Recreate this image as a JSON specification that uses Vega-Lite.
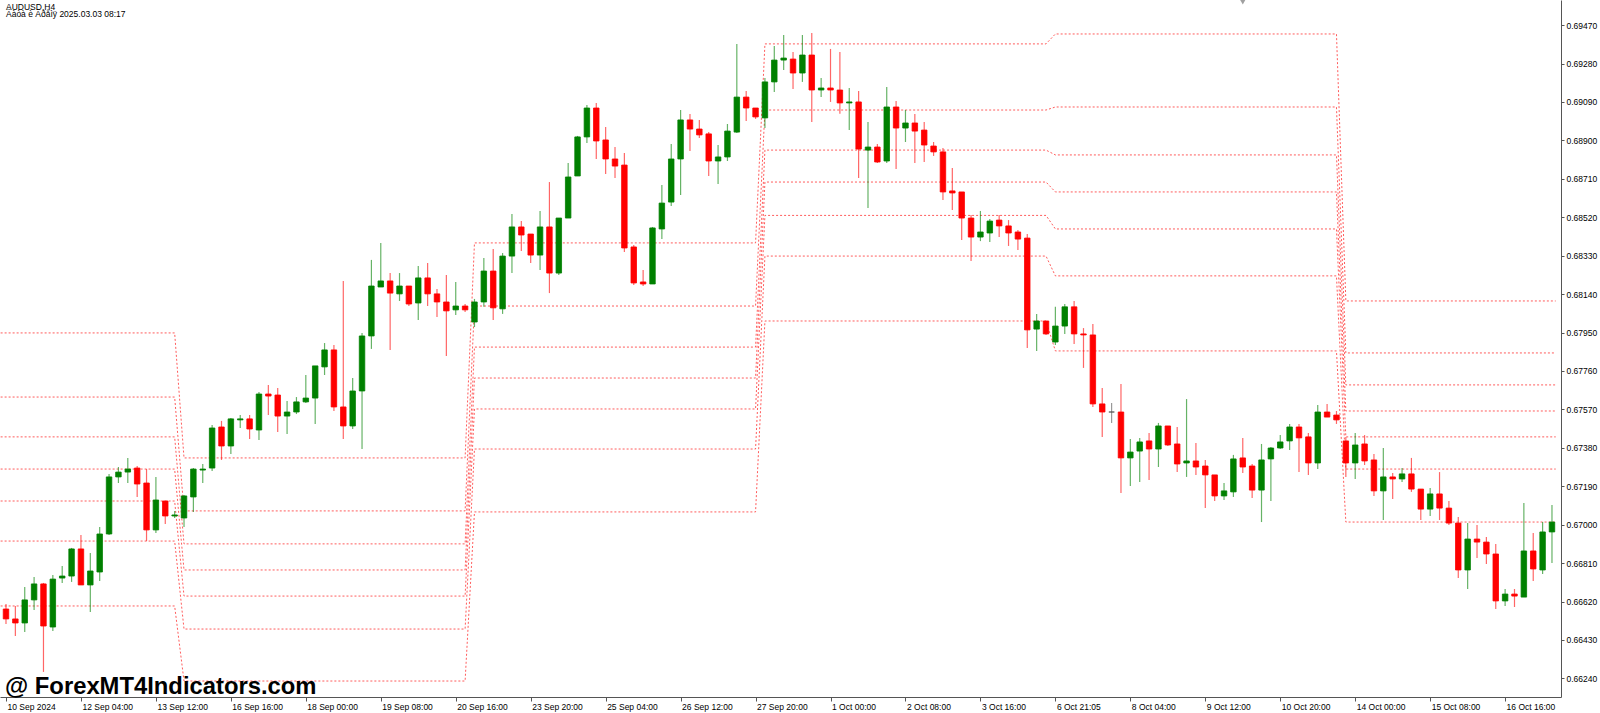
{
  "$schema": "https://vega.github.io/schema/vega-lite/v6.json",
  "width": 1561,
  "height": 697,
  "autosize": "none",
  "padding": {"left": 0, "top": 0, "right": 39, "bottom": 16},
  "background": "white",
  "config": {
    "view": {"stroke": null},
    "axis": {
      "grid": false,
      "title": null,
      "domainColor": "#555555",
      "tickColor": "#555555",
      "labelColor": "#000000",
      "labelFont": "Liberation Sans",
      "labelFontSize": 8.5
    }
  },
  "datasets": {
    "candles": [
      {"i":0,"o":0.66583,"h":0.66608,"l":0.66509,"c":0.66534,"d":"down"},
      {"i":1,"o":0.66534,"h":0.66598,"l":0.66450,"c":0.66514,"d":"down"},
      {"i":2,"o":0.66514,"h":0.66692,"l":0.66469,"c":0.66628,"d":"up"},
      {"i":3,"o":0.66628,"h":0.66741,"l":0.66578,"c":0.66707,"d":"up"},
      {"i":4,"o":0.66707,"h":0.66712,"l":0.66272,"c":0.66499,"d":"down"},
      {"i":5,"o":0.66494,"h":0.66751,"l":0.66474,"c":0.66731,"d":"up"},
      {"i":6,"o":0.66736,"h":0.66796,"l":0.66712,"c":0.66746,"d":"up"},
      {"i":7,"o":0.66746,"h":0.66885,"l":0.66717,"c":0.66880,"d":"up"},
      {"i":8,"o":0.66880,"h":0.66949,"l":0.66702,"c":0.66702,"d":"down"},
      {"i":9,"o":0.66702,"h":0.66860,"l":0.66568,"c":0.66771,"d":"up"},
      {"i":10,"o":0.66766,"h":0.66989,"l":0.66722,"c":0.66954,"d":"up"},
      {"i":11,"o":0.66954,"h":0.67251,"l":0.66949,"c":0.67236,"d":"up"},
      {"i":12,"o":0.67236,"h":0.67285,"l":0.67206,"c":0.67260,"d":"up"},
      {"i":13,"o":0.67260,"h":0.67330,"l":0.67206,"c":0.67275,"d":"up"},
      {"i":14,"o":0.67280,"h":0.67290,"l":0.67137,"c":0.67201,"d":"down"},
      {"i":15,"o":0.67206,"h":0.67275,"l":0.66919,"c":0.66974,"d":"down"},
      {"i":16,"o":0.66974,"h":0.67236,"l":0.66959,"c":0.67122,"d":"up"},
      {"i":17,"o":0.67117,"h":0.67117,"l":0.67003,"c":0.67043,"d":"down"},
      {"i":18,"o":0.67043,"h":0.67068,"l":0.67033,"c":0.67048,"d":"up"},
      {"i":19,"o":0.67033,"h":0.67147,"l":0.66989,"c":0.67142,"d":"up"},
      {"i":20,"o":0.67137,"h":0.67280,"l":0.67063,"c":0.67275,"d":"up"},
      {"i":21,"o":0.67270,"h":0.67300,"l":0.67206,"c":0.67275,"d":"up"},
      {"i":22,"o":0.67280,"h":0.67493,"l":0.67265,"c":0.67478,"d":"up"},
      {"i":23,"o":0.67483,"h":0.67513,"l":0.67320,"c":0.67389,"d":"down"},
      {"i":24,"o":0.67389,"h":0.67527,"l":0.67349,"c":0.67523,"d":"up"},
      {"i":25,"o":0.67518,"h":0.67542,"l":0.67478,"c":0.67523,"d":"up"},
      {"i":26,"o":0.67523,"h":0.67542,"l":0.67424,"c":0.67473,"d":"down"},
      {"i":27,"o":0.67468,"h":0.67656,"l":0.67419,"c":0.67646,"d":"up"},
      {"i":28,"o":0.67646,"h":0.67691,"l":0.67542,"c":0.67636,"d":"down"},
      {"i":29,"o":0.67641,"h":0.67676,"l":0.67458,"c":0.67537,"d":"down"},
      {"i":30,"o":0.67537,"h":0.67612,"l":0.67448,"c":0.67557,"d":"up"},
      {"i":31,"o":0.67557,"h":0.67631,"l":0.67547,"c":0.67607,"d":"up"},
      {"i":32,"o":0.67607,"h":0.67740,"l":0.67602,"c":0.67626,"d":"up"},
      {"i":33,"o":0.67626,"h":0.67785,"l":0.67498,"c":0.67785,"d":"up"},
      {"i":34,"o":0.67780,"h":0.67898,"l":0.67740,"c":0.67864,"d":"up"},
      {"i":35,"o":0.67864,"h":0.67888,"l":0.67562,"c":0.67582,"d":"down"},
      {"i":36,"o":0.67582,"h":0.68205,"l":0.67424,"c":0.67488,"d":"down"},
      {"i":37,"o":0.67488,"h":0.67725,"l":0.67473,"c":0.67661,"d":"up"},
      {"i":38,"o":0.67661,"h":0.67948,"l":0.67374,"c":0.67933,"d":"up"},
      {"i":39,"o":0.67933,"h":0.68309,"l":0.67869,"c":0.68180,"d":"up"},
      {"i":40,"o":0.68175,"h":0.68393,"l":0.68175,"c":0.68205,"d":"up"},
      {"i":41,"o":0.68205,"h":0.68244,"l":0.67864,"c":0.68145,"d":"down"},
      {"i":42,"o":0.68141,"h":0.68244,"l":0.68106,"c":0.68180,"d":"up"},
      {"i":43,"o":0.68180,"h":0.68180,"l":0.68081,"c":0.68091,"d":"down"},
      {"i":44,"o":0.68096,"h":0.68279,"l":0.68012,"c":0.68220,"d":"up"},
      {"i":45,"o":0.68220,"h":0.68294,"l":0.68081,"c":0.68141,"d":"down"},
      {"i":46,"o":0.68141,"h":0.68165,"l":0.68027,"c":0.68101,"d":"down"},
      {"i":47,"o":0.68101,"h":0.68234,"l":0.67834,"c":0.68057,"d":"down"},
      {"i":48,"o":0.68062,"h":0.68200,"l":0.68037,"c":0.68081,"d":"up"},
      {"i":49,"o":0.68081,"h":0.68091,"l":0.68052,"c":0.68062,"d":"down"},
      {"i":50,"o":0.68002,"h":0.68116,"l":0.67977,"c":0.68101,"d":"up"},
      {"i":51,"o":0.68101,"h":0.68318,"l":0.68077,"c":0.68254,"d":"up"},
      {"i":52,"o":0.68254,"h":0.68363,"l":0.68012,"c":0.68072,"d":"down"},
      {"i":53,"o":0.68067,"h":0.68343,"l":0.68042,"c":0.68328,"d":"up"},
      {"i":54,"o":0.68328,"h":0.68536,"l":0.68244,"c":0.68472,"d":"up"},
      {"i":55,"o":0.68472,"h":0.68501,"l":0.68353,"c":0.68432,"d":"down"},
      {"i":56,"o":0.68437,"h":0.68437,"l":0.68294,"c":0.68333,"d":"down"},
      {"i":57,"o":0.68333,"h":0.68551,"l":0.68259,"c":0.68472,"d":"up"},
      {"i":58,"o":0.68472,"h":0.68694,"l":0.68145,"c":0.68244,"d":"down"},
      {"i":59,"o":0.68244,"h":0.68516,"l":0.68234,"c":0.68516,"d":"up"},
      {"i":60,"o":0.68516,"h":0.68788,"l":0.68516,"c":0.68719,"d":"up"},
      {"i":61,"o":0.68724,"h":0.68922,"l":0.68724,"c":0.68917,"d":"up"},
      {"i":62,"o":0.68917,"h":0.69075,"l":0.68887,"c":0.69060,"d":"up"},
      {"i":63,"o":0.69060,"h":0.69085,"l":0.68808,"c":0.68897,"d":"down"},
      {"i":64,"o":0.68902,"h":0.68966,"l":0.68734,"c":0.68808,"d":"down"},
      {"i":65,"o":0.68808,"h":0.68867,"l":0.68714,"c":0.68773,"d":"down"},
      {"i":66,"o":0.68778,"h":0.68838,"l":0.68348,"c":0.68368,"d":"down"},
      {"i":67,"o":0.68373,"h":0.68383,"l":0.68185,"c":0.68195,"d":"down"},
      {"i":68,"o":0.68200,"h":0.68259,"l":0.68180,"c":0.68190,"d":"down"},
      {"i":69,"o":0.68190,"h":0.68472,"l":0.68190,"c":0.68467,"d":"up"},
      {"i":70,"o":0.68462,"h":0.68679,"l":0.68412,"c":0.68590,"d":"up"},
      {"i":71,"o":0.68595,"h":0.68882,"l":0.68576,"c":0.68808,"d":"up"},
      {"i":72,"o":0.68808,"h":0.69050,"l":0.68630,"c":0.69001,"d":"up"},
      {"i":73,"o":0.69001,"h":0.69030,"l":0.68847,"c":0.68956,"d":"down"},
      {"i":74,"o":0.68956,"h":0.69001,"l":0.68912,"c":0.68927,"d":"down"},
      {"i":75,"o":0.68932,"h":0.68941,"l":0.68724,"c":0.68798,"d":"down"},
      {"i":76,"o":0.68798,"h":0.68877,"l":0.68684,"c":0.68818,"d":"up"},
      {"i":77,"o":0.68818,"h":0.68981,"l":0.68798,"c":0.68946,"d":"up"},
      {"i":78,"o":0.68941,"h":0.69377,"l":0.68936,"c":0.69114,"d":"up"},
      {"i":79,"o":0.69114,"h":0.69144,"l":0.68996,"c":0.69060,"d":"down"},
      {"i":80,"o":0.69060,"h":0.69060,"l":0.69006,"c":0.69016,"d":"down"},
      {"i":81,"o":0.69011,"h":0.69208,"l":0.68961,"c":0.69189,"d":"up"},
      {"i":82,"o":0.69189,"h":0.69367,"l":0.69139,"c":0.69297,"d":"up"},
      {"i":83,"o":0.69297,"h":0.69421,"l":0.69248,"c":0.69307,"d":"up"},
      {"i":84,"o":0.69302,"h":0.69337,"l":0.69154,"c":0.69233,"d":"down"},
      {"i":85,"o":0.69233,"h":0.69421,"l":0.69189,"c":0.69322,"d":"up"},
      {"i":86,"o":0.69322,"h":0.69431,"l":0.68991,"c":0.69149,"d":"down"},
      {"i":87,"o":0.69149,"h":0.69208,"l":0.69115,"c":0.69159,"d":"up"},
      {"i":88,"o":0.69159,"h":0.69352,"l":0.69090,"c":0.69149,"d":"down"},
      {"i":89,"o":0.69149,"h":0.69337,"l":0.69031,"c":0.69085,"d":"down"},
      {"i":90,"o":0.69085,"h":0.69159,"l":0.68951,"c":0.69090,"d":"up"},
      {"i":91,"o":0.69090,"h":0.69144,"l":0.68714,"c":0.68857,"d":"down"},
      {"i":92,"o":0.68852,"h":0.68991,"l":0.68566,"c":0.68867,"d":"up"},
      {"i":93,"o":0.68867,"h":0.68882,"l":0.68788,"c":0.68793,"d":"down"},
      {"i":94,"o":0.68798,"h":0.69164,"l":0.68788,"c":0.69065,"d":"up"},
      {"i":95,"o":0.69065,"h":0.69095,"l":0.68759,"c":0.68961,"d":"down"},
      {"i":96,"o":0.68961,"h":0.69050,"l":0.68892,"c":0.68986,"d":"up"},
      {"i":97,"o":0.68986,"h":0.69030,"l":0.68788,"c":0.68946,"d":"down"},
      {"i":98,"o":0.68951,"h":0.68991,"l":0.68793,"c":0.68877,"d":"down"},
      {"i":99,"o":0.68872,"h":0.68892,"l":0.68823,"c":0.68843,"d":"down"},
      {"i":100,"o":0.68843,"h":0.68862,"l":0.68605,"c":0.68645,"d":"down"},
      {"i":101,"o":0.68650,"h":0.68763,"l":0.68556,"c":0.68640,"d":"down"},
      {"i":102,"o":0.68645,"h":0.68645,"l":0.68407,"c":0.68516,"d":"down"},
      {"i":103,"o":0.68516,"h":0.68531,"l":0.68304,"c":0.68422,"d":"down"},
      {"i":104,"o":0.68422,"h":0.68551,"l":0.68402,"c":0.68447,"d":"up"},
      {"i":105,"o":0.68442,"h":0.68511,"l":0.68398,"c":0.68501,"d":"up"},
      {"i":106,"o":0.68506,"h":0.68531,"l":0.68422,"c":0.68477,"d":"down"},
      {"i":107,"o":0.68477,"h":0.68506,"l":0.68378,"c":0.68442,"d":"down"},
      {"i":108,"o":0.68447,"h":0.68457,"l":0.68358,"c":0.68412,"d":"down"},
      {"i":109,"o":0.68417,"h":0.68437,"l":0.67873,"c":0.67963,"d":"down"},
      {"i":110,"o":0.67967,"h":0.68042,"l":0.67859,"c":0.68007,"d":"up"},
      {"i":111,"o":0.68007,"h":0.68007,"l":0.67938,"c":0.67943,"d":"down"},
      {"i":112,"o":0.67903,"h":0.68077,"l":0.67888,"c":0.67982,"d":"up"},
      {"i":113,"o":0.67982,"h":0.68091,"l":0.67943,"c":0.68077,"d":"up"},
      {"i":114,"o":0.68077,"h":0.68106,"l":0.67893,"c":0.67943,"d":"down"},
      {"i":115,"o":0.67943,"h":0.67972,"l":0.67775,"c":0.67938,"d":"down"},
      {"i":116,"o":0.67938,"h":0.67992,"l":0.67582,"c":0.67597,"d":"down"},
      {"i":117,"o":0.67597,"h":0.67676,"l":0.67434,"c":0.67557,"d":"down"},
      {"i":118,"o":0.67557,"h":0.67602,"l":0.67503,"c":0.67557,"d":"doji"},
      {"i":119,"o":0.67557,"h":0.67696,"l":0.67157,"c":0.67330,"d":"down"},
      {"i":120,"o":0.67330,"h":0.67424,"l":0.67191,"c":0.67359,"d":"up"},
      {"i":121,"o":0.67364,"h":0.67429,"l":0.67211,"c":0.67409,"d":"up"},
      {"i":122,"o":0.67414,"h":0.67453,"l":0.67221,"c":0.67374,"d":"down"},
      {"i":123,"o":0.67374,"h":0.67503,"l":0.67285,"c":0.67488,"d":"up"},
      {"i":124,"o":0.67488,"h":0.67488,"l":0.67389,"c":0.67394,"d":"down"},
      {"i":125,"o":0.67399,"h":0.67483,"l":0.67260,"c":0.67300,"d":"down"},
      {"i":126,"o":0.67305,"h":0.67621,"l":0.67236,"c":0.67315,"d":"up"},
      {"i":127,"o":0.67315,"h":0.67404,"l":0.67246,"c":0.67285,"d":"down"},
      {"i":128,"o":0.67290,"h":0.67320,"l":0.67082,"c":0.67246,"d":"down"},
      {"i":129,"o":0.67246,"h":0.67246,"l":0.67117,"c":0.67142,"d":"down"},
      {"i":130,"o":0.67142,"h":0.67206,"l":0.67122,"c":0.67167,"d":"up"},
      {"i":131,"o":0.67162,"h":0.67345,"l":0.67137,"c":0.67325,"d":"up"},
      {"i":132,"o":0.67330,"h":0.67429,"l":0.67256,"c":0.67285,"d":"down"},
      {"i":133,"o":0.67290,"h":0.67300,"l":0.67132,"c":0.67171,"d":"down"},
      {"i":134,"o":0.67171,"h":0.67399,"l":0.67013,"c":0.67320,"d":"up"},
      {"i":135,"o":0.67325,"h":0.67384,"l":0.67117,"c":0.67379,"d":"up"},
      {"i":136,"o":0.67379,"h":0.67443,"l":0.67374,"c":0.67409,"d":"up"},
      {"i":137,"o":0.67414,"h":0.67498,"l":0.67369,"c":0.67483,"d":"up"},
      {"i":138,"o":0.67483,"h":0.67498,"l":0.67260,"c":0.67429,"d":"down"},
      {"i":139,"o":0.67434,"h":0.67453,"l":0.67246,"c":0.67305,"d":"down"},
      {"i":140,"o":0.67305,"h":0.67592,"l":0.67275,"c":0.67557,"d":"up"},
      {"i":141,"o":0.67557,"h":0.67597,"l":0.67532,"c":0.67532,"d":"down"},
      {"i":142,"o":0.67542,"h":0.67562,"l":0.67498,"c":0.67518,"d":"down"},
      {"i":143,"o":0.67414,"h":0.67434,"l":0.67236,"c":0.67305,"d":"down"},
      {"i":144,"o":0.67305,"h":0.67453,"l":0.67226,"c":0.67394,"d":"up"},
      {"i":145,"o":0.67399,"h":0.67443,"l":0.67295,"c":0.67315,"d":"down"},
      {"i":146,"o":0.67320,"h":0.67349,"l":0.67142,"c":0.67167,"d":"down"},
      {"i":147,"o":0.67167,"h":0.67379,"l":0.67023,"c":0.67236,"d":"up"},
      {"i":148,"o":0.67236,"h":0.67256,"l":0.67127,"c":0.67226,"d":"down"},
      {"i":149,"o":0.67226,"h":0.67280,"l":0.67211,"c":0.67251,"d":"up"},
      {"i":150,"o":0.67251,"h":0.67330,"l":0.67162,"c":0.67176,"d":"down"},
      {"i":151,"o":0.67176,"h":0.67176,"l":0.67023,"c":0.67077,"d":"down"},
      {"i":152,"o":0.67077,"h":0.67181,"l":0.67043,"c":0.67152,"d":"up"},
      {"i":153,"o":0.67152,"h":0.67260,"l":0.67023,"c":0.67082,"d":"down"},
      {"i":154,"o":0.67082,"h":0.67117,"l":0.66998,"c":0.67008,"d":"down"},
      {"i":155,"o":0.67008,"h":0.67038,"l":0.66736,"c":0.66776,"d":"down"},
      {"i":156,"o":0.66776,"h":0.67008,"l":0.66682,"c":0.66929,"d":"up"},
      {"i":157,"o":0.66929,"h":0.66998,"l":0.66835,"c":0.66914,"d":"down"},
      {"i":158,"o":0.66914,"h":0.66939,"l":0.66806,"c":0.66855,"d":"down"},
      {"i":159,"o":0.66855,"h":0.66905,"l":0.66583,"c":0.66623,"d":"down"},
      {"i":160,"o":0.66623,"h":0.66682,"l":0.66598,"c":0.66657,"d":"up"},
      {"i":161,"o":0.66657,"h":0.66682,"l":0.66593,"c":0.66647,"d":"down"},
      {"i":162,"o":0.66642,"h":0.67107,"l":0.66642,"c":0.66870,"d":"up"},
      {"i":163,"o":0.66870,"h":0.66959,"l":0.66722,"c":0.66781,"d":"down"},
      {"i":164,"o":0.66776,"h":0.67013,"l":0.66756,"c":0.66964,"d":"up"},
      {"i":165,"o":0.66964,"h":0.67097,"l":0.66811,"c":0.67013,"d":"up"}
    ],
    "levels": [
      {"k":0,"i":-1,"p":0.67948},{"k":0,"i":18,"p":0.67948},{"k":0,"i":19,"p":0.67330},{"k":0,"i":49,"p":0.67330},{"k":0,"i":50,"p":0.68393},{"k":0,"i":80,"p":0.68393},{"k":0,"i":81,"p":0.69377},{"k":0,"i":111,"p":0.69377},{"k":0,"i":112,"p":0.69426},{"k":0,"i":142,"p":0.69426},{"k":0,"i":143,"p":0.68106},{"k":0,"i":165.4,"p":0.68106},
      {"k":1,"i":-1,"p":0.67631},{"k":1,"i":18,"p":0.67631},{"k":1,"i":19,"p":0.67068},{"k":1,"i":49,"p":0.67068},{"k":1,"i":50,"p":0.68081},{"k":1,"i":80,"p":0.68081},{"k":1,"i":81,"p":0.69050},{"k":1,"i":111,"p":0.69050},{"k":1,"i":112,"p":0.69065},{"k":1,"i":142,"p":0.69065},{"k":1,"i":143,"p":0.67849},{"k":1,"i":165.4,"p":0.67849},
      {"k":2,"i":-1,"p":0.67434},{"k":2,"i":18,"p":0.67434},{"k":2,"i":19,"p":0.66905},{"k":2,"i":49,"p":0.66905},{"k":2,"i":50,"p":0.67878},{"k":2,"i":80,"p":0.67878},{"k":2,"i":81,"p":0.68852},{"k":2,"i":111,"p":0.68852},{"k":2,"i":112,"p":0.68828},{"k":2,"i":142,"p":0.68828},{"k":2,"i":143,"p":0.67691},{"k":2,"i":165.4,"p":0.67691},
      {"k":3,"i":-1,"p":0.67275},{"k":3,"i":18,"p":0.67275},{"k":3,"i":19,"p":0.66776},{"k":3,"i":49,"p":0.66776},{"k":3,"i":50,"p":0.67725},{"k":3,"i":80,"p":0.67725},{"k":3,"i":81,"p":0.68694},{"k":3,"i":111,"p":0.68694},{"k":3,"i":112,"p":0.68645},{"k":3,"i":142,"p":0.68645},{"k":3,"i":143,"p":0.67562},{"k":3,"i":165.4,"p":0.67562},
      {"k":4,"i":-1,"p":0.67117},{"k":4,"i":18,"p":0.67117},{"k":4,"i":19,"p":0.66647},{"k":4,"i":49,"p":0.66647},{"k":4,"i":50,"p":0.67572},{"k":4,"i":80,"p":0.67572},{"k":4,"i":81,"p":0.68529},{"k":4,"i":111,"p":0.68529},{"k":4,"i":112,"p":0.68462},{"k":4,"i":142,"p":0.68462},{"k":4,"i":143,"p":0.67434},{"k":4,"i":165.4,"p":0.67434},
      {"k":5,"i":-1,"p":0.66919},{"k":5,"i":18,"p":0.66919},{"k":5,"i":19,"p":0.66484},{"k":5,"i":49,"p":0.66484},{"k":5,"i":50,"p":0.67374},{"k":5,"i":80,"p":0.67374},{"k":5,"i":81,"p":0.68328},{"k":5,"i":111,"p":0.68328},{"k":5,"i":112,"p":0.68230},{"k":5,"i":142,"p":0.68230},{"k":5,"i":143,"p":0.67275},{"k":5,"i":165.4,"p":0.67275},
      {"k":6,"i":-1,"p":0.66598},{"k":6,"i":18,"p":0.66598},{"k":6,"i":19,"p":0.66227},{"k":6,"i":49,"p":0.66227},{"k":6,"i":50,"p":0.67063},{"k":6,"i":80,"p":0.67063},{"k":6,"i":81,"p":0.68007},{"k":6,"i":111,"p":0.68007},{"k":6,"i":112,"p":0.67859},{"k":6,"i":142,"p":0.67859},{"k":6,"i":143,"p":0.67013},{"k":6,"i":165.4,"p":0.67013}
    ]
  },
  "layer": [
    {
      "data": {"name": "levels"},
      "mark": {"type": "line", "clip": true, "strokeDash": [2, 2], "strokeWidth": 1, "color": "#ff4040", "opacity": 0.85},
      "encoding": {
        "x": {"field": "i", "type": "quantitative", "scale": {"domain": [-0.106, 165.43], "nice": false, "zero": false},
          "axis": {
            "orient": "bottom",
            "values": [0, 8, 16, 24, 32, 40, 48, 56, 64, 72, 80, 88, 96, 104, 112, 120, 128, 136, 144, 152, 160],
            "labelExpr": "['10 Sep 2024','12 Sep 04:00','13 Sep 12:00','16 Sep 16:00','18 Sep 00:00','19 Sep 08:00','20 Sep 16:00','23 Sep 20:00','25 Sep 04:00','26 Sep 12:00','27 Sep 20:00','1 Oct 00:00','2 Oct 08:00','3 Oct 16:00','6 Oct 21:05','8 Oct 04:00','9 Oct 12:00','10 Oct 20:00','14 Oct 00:00','15 Oct 08:00','16 Oct 16:00'][round(datum.value / 8)]",
            "labelAlign": "left",
            "labelBaseline": "top",
            "labelOffset": 1,
            "labelPadding": 1,
            "tickSize": 4,
            "labelFlush": false,
            "labelOverlap": false,
            "labelBound": false
          }
        },
        "y": {"field": "p", "type": "quantitative", "scale": {"domain": [0.66148, 0.69594], "nice": false, "zero": false},
          "axis": {
            "orient": "right",
            "values": [0.6624, 0.6643, 0.6662, 0.6681, 0.67, 0.6719, 0.6738, 0.6757, 0.6776, 0.6795, 0.6814, 0.6833, 0.6852, 0.6871, 0.689, 0.6909, 0.6928, 0.6947],
            "format": ".5f",
            "tickSize": 3,
            "labelPadding": 2,
            "labelBaseline": "middle"
          }
        },
        "detail": {"field": "k", "type": "nominal"},
        "order": {"field": "i", "type": "quantitative"}
      }
    },
    {
      "data": {"name": "candles"},
      "mark": {"type": "rule", "strokeWidth": 1.2, "opacity": 0.6},
      "encoding": {
        "x": {"field": "i", "type": "quantitative"},
        "y": {"field": "l", "type": "quantitative"},
        "y2": {"field": "h"},
        "color": {"field": "d", "type": "nominal", "legend": null,
          "scale": {"domain": ["up", "down", "doji"], "range": ["#008000", "#ff0000", "#555555"]}}
      }
    },
    {
      "data": {"name": "candles"},
      "mark": {"type": "bar", "width": 5.5, "strokeWidth": 0.8},
      "encoding": {
        "x": {"field": "i", "type": "quantitative"},
        "y": {"field": "o", "type": "quantitative"},
        "y2": {"field": "c"},
        "fill": {"field": "d", "type": "nominal", "legend": null,
          "scale": {"domain": ["up", "down", "doji"], "range": ["#008000", "#ff0000", "#555555"]}},
        "stroke": {"field": "d", "type": "nominal", "legend": null,
          "scale": {"domain": ["up", "down", "doji"], "range": ["#008000", "#ff0000", "#555555"]}}
      }
    },
    {
      "data": {"values": [
        {"i": 0, "p": 0.69547, "t": "AUDUSD,H4"},
        {"i": 0, "p": 0.69510, "t": "Äàòà è Âðåìÿ 2025.03.03 08:17"}
      ]},
      "mark": {"type": "text", "align": "left", "baseline": "alphabetic", "font": "Liberation Sans", "fontSize": 8.5, "color": "#000000"},
      "encoding": {
        "x": {"field": "i", "type": "quantitative"},
        "y": {"field": "p", "type": "quantitative"},
        "text": {"field": "t"}
      }
    },
    {
      "data": {"values": [{"i": -0.106, "p": 0.66165, "t": "@ ForexMT4Indicators.com"}]},
      "mark": {"type": "text", "align": "left", "baseline": "alphabetic", "font": "Liberation Sans", "fontWeight": "bold", "fontSize": 23.8, "color": "#000000"},
      "encoding": {
        "x": {"field": "i", "type": "quantitative"},
        "y": {"field": "p", "type": "quantitative"},
        "text": {"field": "t"}
      }
    },
    {
      "data": {"values": [{"i": 132, "p": 0.69590}]},
      "mark": {"type": "point", "shape": "triangle-down", "filled": true, "size": 70, "color": "#a0a0a0", "opacity": 1},
      "encoding": {
        "x": {"field": "i", "type": "quantitative"},
        "y": {"field": "p", "type": "quantitative"}
      }
    }
  ]
}
